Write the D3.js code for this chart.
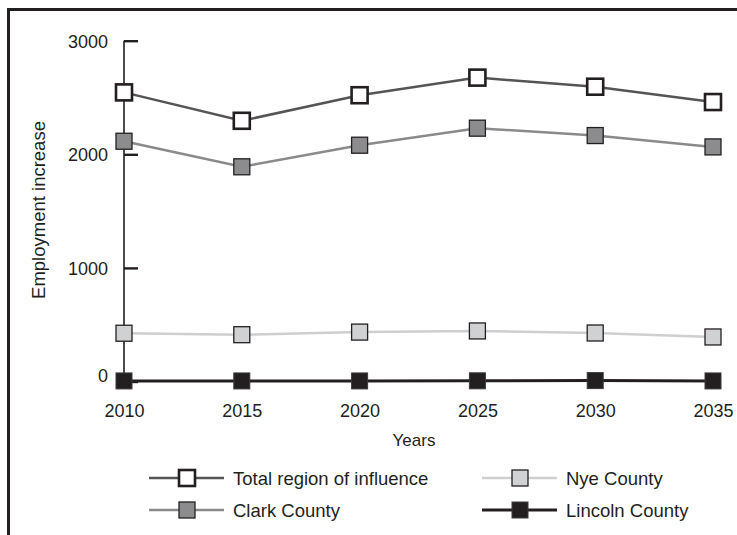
<!DOCTYPE html>
<html>
<head>
<meta charset="utf-8">
<script src="https://cdn.jsdelivr.net/npm/d3@7"></script>
<style>
  body { margin: 0; background: #fff; }
  svg { display: block; font-family: "Liberation Sans", Arial, Helvetica, sans-serif; }
</style>
</head>
<body>
<div id="chart"></div>
<script>
// Chart data
const years = [2010, 2015, 2020, 2025, 2030, 2035];
const yTicks = [0, 1000, 2000, 3000];
const totalRegion = [2545, 2295, 2520, 2675, 2595, 2460];
const clarkCounty = [2115, 1890, 2080, 2230, 2165, 2065];
const nyeCounty = [425, 412, 435, 445, 427, 392];
const lincolnCounty = [5, 5, 5, 6, 8, 5];

const width = 737, height = 535;

// Styles per series
const styles = {
    'Total region of influence': { line: '#555555', lineWidth: 2.5, fill: '#ffffff', stroke: '#231f20', strokeWidth: 2.6 },
    'Clark County': { line: '#8a8a8a', lineWidth: 2.5, fill: '#8c8c8e', stroke: '#231f20', strokeWidth: 1.3 },
    'Nye County': { line: '#cfcfcf', lineWidth: 2.5, fill: '#d0d1d3', stroke: '#231f20', strokeWidth: 1.3 },
    'Lincoln County': { line: '#231f20', lineWidth: 3, fill: '#231f20', stroke: '#3a3a3a', strokeWidth: 1 }
};

const seriesValues = {
    'Total region of influence': totalRegion,
    'Clark County': clarkCounty,
    'Nye County': nyeCounty,
    'Lincoln County': lincolnCounty
};

const svg = d3.select('#chart')
    .append('svg')
    .attr('width', width)
    .attr('height', height);

// Outer frame (runs off the right and bottom edges)
svg.append('rect')
    .attr('x', 8.5)
    .attr('y', 9.5)
    .attr('width', 760)
    .attr('height', 560)
    .attr('fill', 'none')
    .attr('stroke', '#231f20')
    .attr('stroke-width', 3);

// Scales
const x = d3.scaleLinear().domain([2010, 2035]).range([124, 713]);
const y = d3.scaleLinear().domain([0, 3000]).range([381.5, 40.7]);

// Y axis: ticks point right, labels on the left
const yAxis = svg.append('g')
    .attr('transform', `translate(${x(2010)},0)`)
    .call(d3.axisRight(y).tickValues(yTicks).tickSize(14).tickFormat(d3.format('d')));

yAxis.select('.domain')
    .attr('d', `M0,${y(3000)}V${y(0)}`)
    .attr('stroke', '#231f20')
    .attr('stroke-width', 1.6);
yAxis.selectAll('.tick line')
    .attr('stroke', '#231f20')
    .attr('stroke-width', 2.4);
yAxis.selectAll('.tick text')
    .attr('x', -16)
    .attr('dy', d => d === 0 ? '0em' : '0.35em')
    .attr('text-anchor', 'end')
    .attr('fill', '#231f20')
    .style('font-size', '18px')
    .style('font-family', '"Liberation Sans", Arial, sans-serif');

// X axis labels only
const xAxis = svg.append('g')
    .attr('transform', `translate(0,${y(0)})`)
    .call(d3.axisBottom(x).tickValues(years).tickSize(0).tickFormat(d3.format('d')));
xAxis.select('.domain').remove();
xAxis.selectAll('.tick text')
    .attr('y', 35)
    .attr('dy', 0)
    .attr('fill', '#231f20')
    .style('font-size', '18px')
    .style('font-family', '"Liberation Sans", Arial, sans-serif');

// Axis titles
svg.append('text')
    .attr('x', 414)
    .attr('y', 446)
    .attr('text-anchor', 'middle')
    .attr('fill', '#231f20')
    .style('font-size', '17px')
    .text('Years');

svg.append('text')
    .attr('transform', 'translate(45,210) rotate(-90)')
    .attr('text-anchor', 'middle')
    .attr('fill', '#231f20')
    .style('font-size', '18.5px')
    .text('Employment increase');

// Lines and markers
const markerSize = 16;
const line = d3.line()
    .x((d, i) => x(years[i]))
    .y(d => y(d));

const drawOrder = ['Nye County', 'Lincoln County', 'Clark County', 'Total region of influence'];

drawOrder.forEach(name => {
    const s = styles[name];
    const values = seriesValues[name];

    svg.append('path')
        .datum(values)
        .attr('d', line)
        .attr('fill', 'none')
        .attr('stroke', s.line)
        .attr('stroke-width', s.lineWidth);

    svg.append('g')
        .selectAll('rect')
        .data(values)
        .join('rect')
        .attr('x', (d, i) => x(years[i]) - markerSize / 2)
        .attr('y', d => y(d) - markerSize / 2)
        .attr('width', markerSize)
        .attr('height', markerSize)
        .attr('fill', s.fill)
        .attr('stroke', s.stroke)
        .attr('stroke-width', s.strokeWidth);
});

// Legend
const legendItems = [
    { name: 'Total region of influence', col: 0, row: 0 },
    { name: 'Nye County', col: 1, row: 0 },
    { name: 'Clark County', col: 0, row: 1 },
    { name: 'Lincoln County', col: 1, row: 1 }
];
const legendCols = [149, 482];
const legendRows = [478, 510];

const legend = svg.append('g').attr('class', 'legend');
legendItems.forEach(item => {
    const s = styles[item.name];
    const lx = legendCols[item.col];
    const ly = legendRows[item.row];
    const g = legend.append('g').attr('transform', `translate(${lx},${ly})`);

    g.append('line')
        .attr('x1', 0).attr('x2', 75)
        .attr('y1', 0).attr('y2', 0)
        .attr('stroke', s.line)
        .attr('stroke-width', s.lineWidth);

    g.append('rect')
        .attr('x', 38 - 8)
        .attr('y', -8)
        .attr('width', 16)
        .attr('height', 16)
        .attr('fill', s.fill)
        .attr('stroke', s.stroke)
        .attr('stroke-width', s.strokeWidth);

    g.append('text')
        .attr('x', 84)
        .attr('y', 7)
        .attr('fill', '#231f20')
        .style('font-size', '18.5px')
        .text(item.name);
});
</script>
</body>
</html>
